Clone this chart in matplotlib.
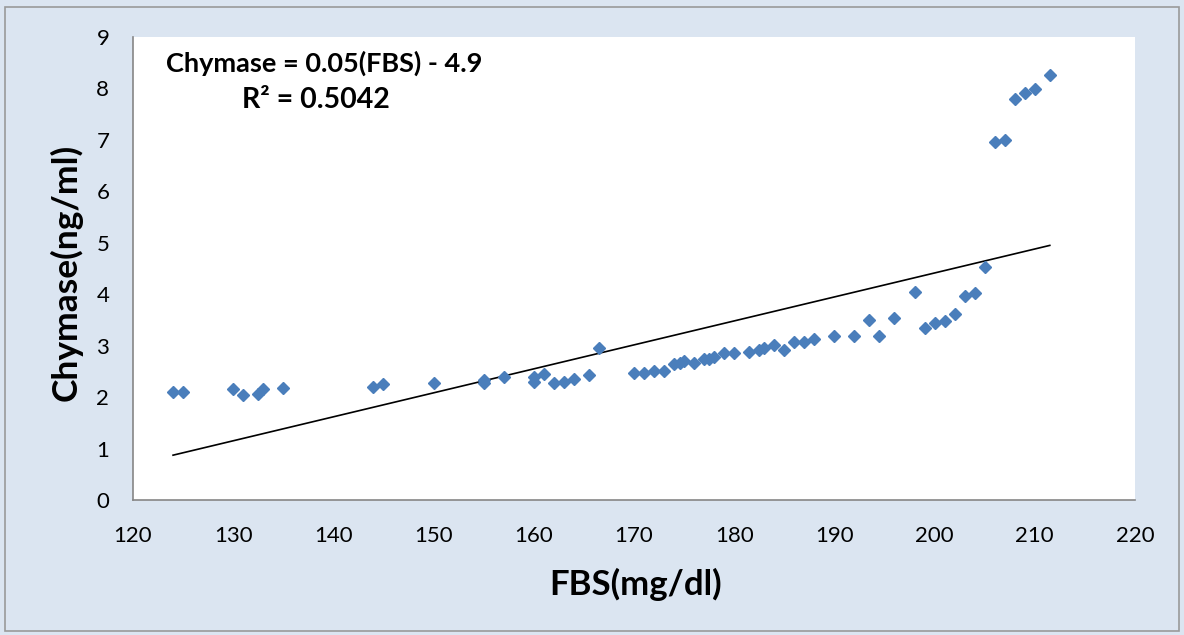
import matplotlib
matplotlib.use("Agg")
import matplotlib.pyplot as plt
import numpy as np
from matplotlib.patches import Rectangle

plt.rcParams['font.family'] = ['Lato', 'DejaVu Sans']

fbs = [124.0, 125.0, 130.0, 131.0, 132.5, 133.0, 135.0, 144.0, 145.0, 150.0,
       155.0, 155.0, 157.0, 160.0, 160.0, 161.0, 162.0, 163.0, 164.0, 165.5,
       166.5, 170.0, 171.0, 172.0, 173.0, 174.0, 174.6, 175.0, 176.0, 177.0,
       177.5, 178.0, 179.0, 180.0, 181.5, 182.5, 183.0, 184.0, 185.0, 186.0,
       187.0, 188.0, 190.0, 192.0, 193.5, 194.5, 196.0, 198.0, 199.0, 200.0,
       201.0, 202.0, 203.0, 204.0, 205.0, 206.0, 207.0, 208.0, 209.0, 210.0,
       211.5]
chymase = [2.10, 2.10, 2.15, 2.04, 2.06, 2.15, 2.17, 2.19, 2.25, 2.27,
           2.34, 2.27, 2.39, 2.39, 2.29, 2.45, 2.27, 2.30, 2.36, 2.43,
           2.96, 2.46, 2.46, 2.51, 2.51, 2.64, 2.67, 2.70, 2.67, 2.74,
           2.74, 2.78, 2.85, 2.85, 2.87, 2.91, 2.96, 3.01, 2.92, 3.07,
           3.07, 3.12, 3.18, 3.18, 3.49, 3.19, 3.54, 4.05, 3.34, 3.44,
           3.48, 3.62, 3.96, 4.03, 4.53, 6.96, 7.00, 7.80, 7.91, 7.99,
           8.27]
x_ticks = [120, 130, 140, 150, 160, 170, 180, 190, 200, 210, 220]
y_ticks = [0, 1, 2, 3, 4, 5, 6, 7, 8, 9]
equation_text = "Chymase = 0.05(FBS) - 4.9"
r2_text = "R² = 0.5042"

bg = '#DBE5F1'
fig = plt.figure(figsize=(11.84, 6.35), dpi=100)
fig.patch.set_facecolor(bg)
fig.add_artist(Rectangle((0.004, 0.006), 0.992, 0.983, transform=fig.transFigure,
                         fill=False, edgecolor='#9A9A9A', linewidth=1.2))

ax = fig.add_axes([0.1123, 0.2126, 0.8463, 0.7291])
ax.set_facecolor('white')

x = np.array(fbs)
y = np.array(chymase)
slope, intercept = np.polyfit(x, y, 1)
xl = np.array([x.min(), x.max()])
ax.plot(xl, slope * xl + intercept, color='black', linewidth=1.2, zorder=2)
ax.plot(x, y, linestyle='none', marker='D', markersize=6.5, color='#4A7EBB',
        markeredgecolor='#4A7EBB', zorder=3)

ax.set_xlim(120, 220)
ax.set_ylim(0, 9)
ax.set_xticks(x_ticks)
ax.set_yticks(y_ticks)
ax.tick_params(axis='both', length=0, labelsize=16, colors='black')
ax.tick_params(axis='x', pad=19)
ax.tick_params(axis='y', pad=17)
for s in ['top', 'right']:
    ax.spines[s].set_visible(False)
for s in ['left', 'bottom']:
    ax.spines[s].set_color('#868686')
    ax.spines[s].set_linewidth(1.2)

ax.set_xlabel('FBS(mg/dl)', fontsize=25, fontweight='bold')
ax.set_ylabel('Chymase(ng/ml)', fontsize=25.5, fontweight='bold')
ax.xaxis.set_label_coords(0.5015, -0.147)
ax.yaxis.set_label_coords(-0.05, 0.4925)

ax.text(0.1906, 0.9244, equation_text, transform=ax.transAxes, fontsize=19.5,
        fontweight='bold', ha='center', va='baseline')
ax.text(0.1826, 0.8467, r2_text, transform=ax.transAxes, fontsize=20.5,
        fontweight='bold', ha='center', va='baseline')

fig.savefig('out.png', dpi=100, facecolor=bg)
